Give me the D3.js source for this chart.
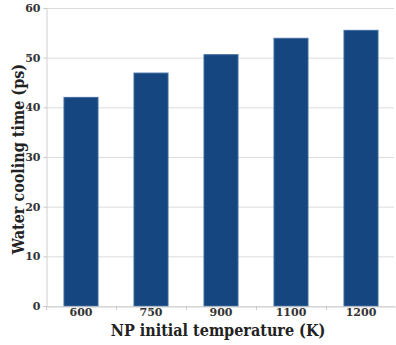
<!DOCTYPE html>
<html lang="en">
<head>
<meta charset="utf-8">
<title>Water cooling time</title>
<script src="https://d3js.org/d3.v7.min.js"></script>
<style>
  body { margin: 0; background: #fff; }
  .tick text { font-family: "DejaVu Serif", serif; font-weight: bold; font-size: 11px; fill: #333; }
  .axis-title { font-family: "DejaVu Serif Condensed", "DejaVu Serif", serif; font-stretch: condensed; font-weight: bold; fill: #222; }
</style>
</head>
<body>
<script>
// data
const temperatures = ["600", "750", "900", "1100", "1200"];
const coolingTimes = [42.1, 47.0, 50.7, 54.0, 55.6];
const yTicks = [0, 10, 20, 30, 40, 50, 60];

const width = 396, height = 345;
const margin = { top: 8, right: 0, bottom: 39, left: 46 };

const svg = d3.select("body").append("svg")
  .attr("width", width)
  .attr("height", height);

const x = d3.scaleBand()
  .domain(temperatures)
  .range([margin.left, width - margin.right])
  .paddingInner(0.5)
  .paddingOuter(0.25);

const y = d3.scaleLinear()
  .domain([0, 60])
  .range([height - margin.bottom, margin.top]);

// grid lines
svg.append("g")
  .selectAll("line")
  .data(yTicks)
  .enter().append("line")
  .attr("x1", margin.left)
  .attr("x2", width - margin.right - 2)
  .attr("y1", d => y(d) + 0.5)
  .attr("y2", d => y(d) + 0.5)
  .attr("stroke", "#dcdcdc");

// bars
svg.append("g")
  .selectAll("rect")
  .data(temperatures)
  .enter().append("rect")
  .attr("x", d => x(d) + 0.5)
  .attr("y", (d, i) => y(coolingTimes[i]) + 0.5)
  .attr("width", x.bandwidth() - 1)
  .attr("height", (d, i) => y(0) - y(coolingTimes[i]) - 0.5)
  .attr("fill", "#15467f")
  .attr("stroke", "#3f6c9f")
  .attr("stroke-width", 1);

// y axis
const yAxis = svg.append("g")
  .attr("transform", `translate(${margin.left + 0.5},0)`)
  .call(d3.axisLeft(y).tickValues(yTicks).tickSize(3).tickPadding(3));
yAxis.select(".domain").attr("stroke", "#d0d0d0");
yAxis.selectAll(".tick line").attr("stroke", "#c8c8c8");

// x axis, ticks sit between the bands
const xAxis = svg.append("g")
  .attr("transform", `translate(0,${y(0) + 0.5})`)
  .call(d3.axisBottom(x).tickSize(0).tickPadding(3));
xAxis.select(".domain").attr("stroke", "#d0d0d0");
xAxis.selectAll(".tick text").attr("dy", "0.6em");

const step = x.step();
svg.append("g")
  .selectAll("line")
  .data(d3.range(temperatures.length + 1))
  .enter().append("line")
  .attr("x1", i => margin.left + i * step + 0.5)
  .attr("x2", i => margin.left + i * step + 0.5)
  .attr("y1", y(0))
  .attr("y2", y(0) + 4)
  .attr("stroke", "#c8c8c8");

// axis titles
svg.append("text")
  .attr("class", "axis-title")
  .attr("x", 218)
  .attr("y", 336)
  .attr("text-anchor", "middle")
  .style("font-size", "16px")
  .text("NP initial temperature (K)");

svg.append("text")
  .attr("class", "axis-title")
  .attr("transform", `translate(24,159) rotate(-90)`)
  .attr("text-anchor", "middle")
  .style("font-size", "16px")
  .text("Water cooling time (ps)");
</script>
</body>
</html>
